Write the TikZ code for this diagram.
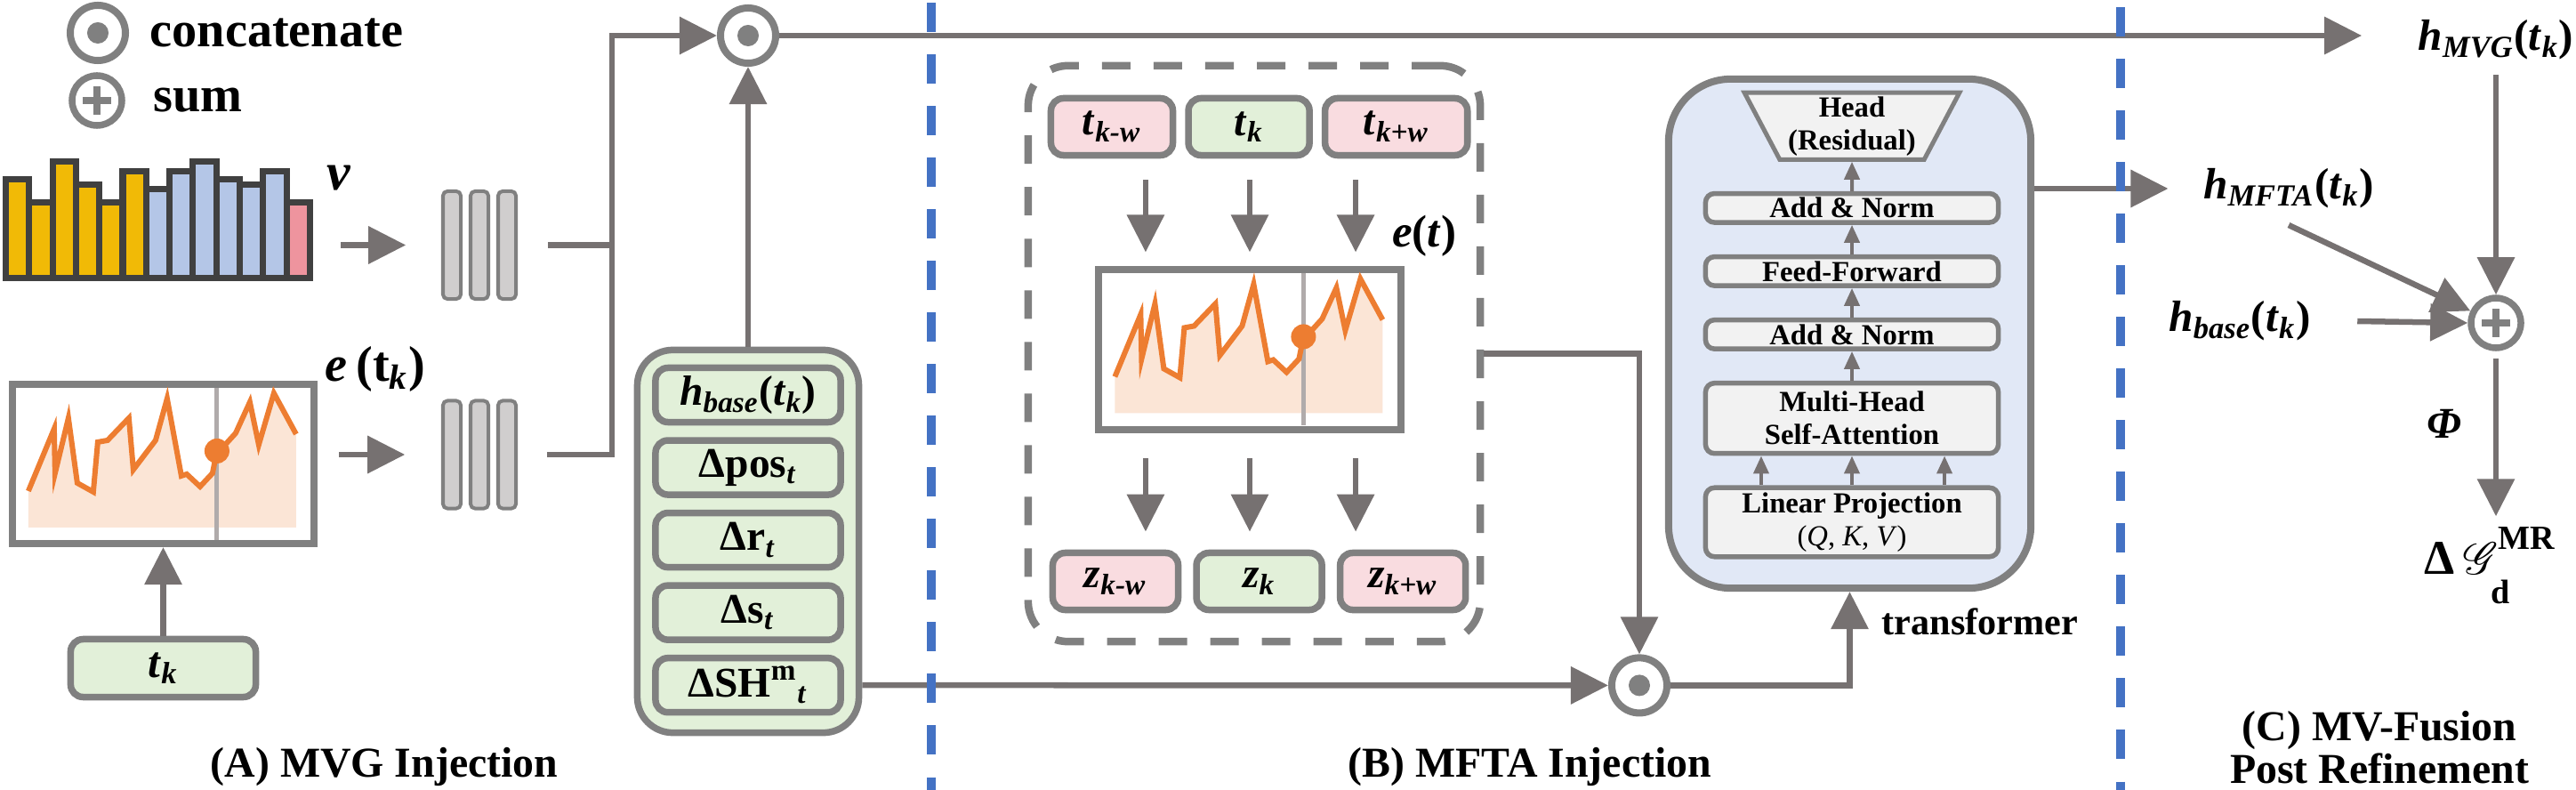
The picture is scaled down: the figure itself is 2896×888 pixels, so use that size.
\documentclass[tikz,border=0pt]{standalone}
\usepackage{amsmath}
\usepackage{fontspec}
\setmainfont{Liberation Serif}
\usepackage{mathrsfs}
\usetikzlibrary{arrows.meta,positioning,shapes.geometric}

\definecolor{arrgray}{HTML}{767171}
\definecolor{boxgray}{HTML}{808080}
\definecolor{splitgray}{HTML}{B0ABAB}
\definecolor{bardark}{HTML}{404040}
\definecolor{greenfill}{HTML}{E2F0D9}
\definecolor{pinkfill}{HTML}{F9DCE0}
\definecolor{transfill}{HTML}{E1E8F6}
\definecolor{layerfill}{HTML}{F2F2F2}
\definecolor{featfill}{HTML}{D0CECE}
\definecolor{curveorange}{HTML}{ED7D31}
\definecolor{peach}{HTML}{FBE5D6}
\definecolor{sepblue}{HTML}{4472C4}
\definecolor{baryellow}{HTML}{F1BA06}
\definecolor{barblue}{HTML}{B4C6E7}
\definecolor{barpink}{HTML}{EE949E}

\newcommand{\lsub}[1]{\textsubscript{\textit{#1}}}
\newcommand{\bsz}[1]{\fontsize{#1}{#1}\selectfont\bfseries}
\newcommand{\curvepts}{(22,124) -- (51,54) -- (52,104) -- (67,42) -- (77,115) -- (95,125) -- (100,69) -- (111,67) -- (135,42) -- (140,100) -- (165,67) -- (178,20) -- (194,107) -- (200,105) -- (215,119) -- (229,104) -- (234,79) -- (245,70) -- (255,59) -- (271,24) -- (281,72) -- (298,14) -- (323,60)}

\tikzset{
  chartpic/.pic={
    \fill[peach] (22,165) -- \curvepts -- (323,165) -- cycle;
    \draw[draw=splitgray, line width=0.05cm] (234,8) -- (234,179);
    \draw[draw=curveorange, line width=0.06cm] \curvepts;
    \fill[curveorange] (234,79) circle (0.14cm);
  }
}

\begin{document}
\begin{tikzpicture}[
  x=0.01cm, y=-0.01cm,
  node distance=0.33cm,
  arr/.style={draw=arrgray, color=arrgray, line width=0.065cm, -{Triangle[length=0.42cm,width=0.41cm]}},
  conn/.style={draw=arrgray, line width=0.065cm},
  smallarr/.style={draw=arrgray, color=arrgray, line width=0.04cm, -{Triangle[length=0.2cm,width=0.17cm]}},
  catnode/.style={circle, draw=boxgray, fill=white, line width=0.08cm, minimum size=0.62cm, inner sep=0,
    path picture={\fill[boxgray] (path picture bounding box.center) circle (0.12cm);}},
  sumnode/.style={circle, draw=boxgray, fill=white, line width=0.075cm, minimum size=0.56cm, inner sep=0,
    path picture={\fill[boxgray] ([xshift=-0.16cm,yshift=-0.04cm]path picture bounding box.center) rectangle ([xshift=0.16cm,yshift=0.04cm]path picture bounding box.center);
      \fill[boxgray] ([xshift=-0.04cm,yshift=-0.16cm]path picture bounding box.center) rectangle ([xshift=0.04cm,yshift=0.16cm]path picture bounding box.center);}},
  featstack/.style={minimum width=0.86cm, minimum height=1.25cm, inner sep=0},
  featbar/.style={draw=boxgray, fill=featfill, line width=0.04cm, rounded corners=0.05cm, minimum width=0.2cm, minimum height=1.21cm, inner sep=0},
  chartbox/.style={draw=boxgray, fill=white, line width=0.08cm, minimum width=3.39cm, minimum height=1.79cm, inner sep=0, outer sep=0.04cm},
  gbox/.style={draw=boxgray, fill=greenfill, line width=0.075cm, rounded corners=0.14cm, inner sep=0, font=\bsz{13.5pt}},
  pbox/.style={gbox, fill=pinkfill},
  gslot/.style={minimum width=2.08cm, minimum height=0.61cm},
  tslot/.style={minimum width=1.41cm, minimum height=0.64cm},
  layer/.style={draw=boxgray, fill=layerfill, line width=0.055cm, rounded corners=0.1cm, minimum width=3.29cm, inner sep=0, align=center, font=\fontsize{9.3pt}{10.5pt}\selectfont\bfseries},
  lbl/.style={inner sep=0, font=\bsz{14pt}},
  title/.style={inner sep=0, font=\fontsize{13.6pt}{11.6pt}\selectfont\bfseries},
  sepline/.style={draw=sepblue, line width=0.1cm, dash pattern=on 0.33cm off 0.25cm}
]
\useasboundingbox (0,0) rectangle (2896,888);

% legend
\node[catnode] (legcat) at (110,37) {};
\node[lbl, font=\bsz{16pt}, right=0.23cm of legcat] (legcattxt) {concatenate};
\node[sumnode] (legsum) at (109,113) {};
\node[lbl, font=\bsz{16pt}, right=0.31cm of legsum] (legsumtxt) {sum};

% (A) MVG injection
\foreach \h [count=\i] in {198,224,178,204,224,189,209,189,178,198,204,189,224} {
  \ifnum\i<7 \def\barcol{baryellow}\else\ifnum\i<13 \def\barcol{barblue}\else\def\barcol{barpink}\fi\fi
  \filldraw[fill=\barcol, draw=bardark, line width=0.07cm] ({6.5+(\i-1)*26.3},{\h+3.5}) rectangle ({6.5+\i*26.3},312.5);
}
\coordinate (vbars) at (352,275.5);
\node[lbl, font=\bsz{17pt}] (vlbl) at (381,200) {\textit{v}};
\node[featstack] (stack1) at (539,275.5) {};
\foreach \dx in {-31,0,31} \node[featbar] at ([xshift=\dx*0.01cm]stack1.center) {};
\draw[arr] ([xshift=0.31cm]vbars) -- ([xshift=-0.39cm]stack1.west);

\node[chartbox] (chartA) at (183.5,521.5) {};
\pic at (chartA.north west) {chartpic};
\node[lbl, font=\bsz{16pt}] (etk) at (422,415) {\textit{e}\,(t\lsub{k})};
\node[gbox, minimum width=2.08cm, minimum height=0.65cm, font=\bsz{14pt}] (tk) at (183.5,751) {\textit{t}\lsub{k}};
\draw[arr] (tk.north) -- (chartA.south);
\node[featstack] (stack2) at (539,511) {};
\foreach \dx in {-31,0,31} \node[featbar] at ([xshift=\dx*0.01cm]stack2.center) {};
\draw[arr] ([xshift=0.24cm]chartA.east |- stack2.west) -- ([xshift=-0.4cm]stack2.west);

\coordinate (jn) at (688,275.5);
\node[catnode] (catA) at (841,40) {};
\draw[arr] ([xshift=0.33cm]stack1.east) -- (jn) |- (catA.west);
\draw[conn] ([xshift=0.32cm]stack2.east) -| (jn);

\node[draw=boxgray, fill=greenfill, line width=0.075cm, rounded corners=0.4cm, minimum width=2.49cm, minimum height=4.3cm] (hstack) at (841,608.5) {};
\node[gbox, gslot] (hbase) at (841,444) {\textit{h}\lsub{base}(\textit{t}\lsub{k})};
\node[gbox, gslot, below=0.13cm of hbase] (dpos) {Δpos\lsub{t}};
\node[gbox, gslot, below=0.13cm of dpos] (drot) {Δr\lsub{t}};
\node[gbox, gslot, below=0.13cm of drot] (dscl) {Δs\lsub{t}};
\node[gbox, gslot, below=0.13cm of dscl] (dsh) {ΔSH\textsuperscript{m}\lsub{t}};
\draw[arr] (hstack.north) -- (catA.south);

\node[lbl] (hmvg) at (2806,45) {\textit{h}\lsub{MVG}(\textit{t}\lsub{k})};
\draw[arr, shorten >=0.63cm] (catA.east) -- (catA.east -| hmvg.west);

% (B) MFTA injection
\node[draw=boxgray, line width=0.085cm, dash pattern=on 0.32cm off 0.26cm, rounded corners=0.45cm, minimum width=5.08cm, minimum height=6.47cm] (mfta) at (1410,397.5) {};
\node[pbox, tslot, minimum width=1.37cm] (tkw) at (1250,142.5) {\textit{t}\lsub{k-w}};
\node[gbox, tslot, minimum width=1.36cm, right=0.1cm of tkw] (tkc) {\textit{t}\lsub{k}};
\node[pbox, tslot, minimum width=1.6cm, right=0.1cm of tkc] (tkp) {\textit{t}\lsub{k+w}};
\node[chartbox] (chartB) at (1405,393) {};
\pic at (chartB.north west) {chartpic};
\node[lbl, font=\bsz{14.5pt}] (et) at (1601,265) {\textit{e}(\textit{t})};
\node[pbox, tslot] (zkw) at (1254,653.5) {\textit{z}\lsub{k-w}};
\node[gbox, tslot, right=0.13cm of zkw] (zkc) {\textit{z}\lsub{k}};
\node[pbox, tslot, right=0.13cm of zkc] (zkp) {\textit{z}\lsub{k+w}};
\foreach \dx in {-1.17,0,1.19} {
  \draw[arr] ([xshift=\dx cm,yshift=0.97cm]chartB.north) -- ([xshift=\dx cm,yshift=0.16cm]chartB.north);
  \draw[arr] ([xshift=\dx cm,yshift=-0.28cm]chartB.south) -- ([xshift=\dx cm,yshift=-1.11cm]chartB.south);
}

\node[catnode] (catB) at (1843,770.4) {};
\draw[arr] (mfta.east) -| (catB.north);
\draw[arr] (dsh -| hstack.east) -- (catB.west);

% transformer
\node[draw=boxgray, fill=transfill, line width=0.08cm, rounded corners=0.7cm, minimum width=4.07cm, minimum height=5.72cm] (trans) at (2079.5,375) {};
\node[layer, minimum height=0.775cm] (linproj) at (2082,587) {Linear Projection\\{\mdseries(\textit{Q}, \textit{K}, \textit{V})}};
\node[layer, minimum height=0.79cm, above=of linproj] (mhsa) {Multi-Head\\Self-Attention};
\node[layer, minimum height=0.325cm, above=of mhsa] (addnA) {Add \& Norm};
\node[layer, minimum height=0.325cm, above=of addnA] (ffwd) {Feed-Forward};
\node[layer, minimum height=0.325cm, above=of ffwd] (addnB) {Add \& Norm};
\node[trapezium, trapezium angle=63, trapezium stretches=true, shape border rotate=180, draw=boxgray, fill=layerfill, line width=0.05cm, minimum width=2.42cm, minimum height=0.75cm, inner sep=0.02cm, align=center, font=\fontsize{9.3pt}{10.5pt}\selectfont\bfseries, above=of addnB] (head) {Head\\(Residual)};
\foreach \dx in {-1.02,0,1.04} \draw[smallarr] ([xshift=\dx cm]linproj.north) -- ([xshift=\dx cm]mhsa.south);
\draw[smallarr] (mhsa) -- (addnA);
\draw[smallarr] (addnA) -- (ffwd);
\draw[smallarr] (ffwd) -- (addnB);
\draw[smallarr] (addnB) -- (head);
\draw[arr] (catB.east) -| (trans.south);
\node[lbl, font=\bsz{12pt}] (translbl) at (2226,699) {transformer};

% (C) fusion
\node[lbl] (hmfta) at (2573,212) {\textit{h}\lsub{MFTA}(\textit{t}\lsub{k})};
\node[lbl] (hbaseR) at (2518,361) {\textit{h}\lsub{base}(\textit{t}\lsub{k})};
\node[sumnode] (sumC) at (2806,363) {};
\node[lbl] (phi) at (2748,476) {\textit{Φ}};
\node[lbl, font=\bsz{15.5pt}] (dg) at (2800,636) {Δ\,$\mathscr{G}^{\textbf{MR}\rule[-0.4ex]{0pt}{0pt}}_{\rule{0pt}{1.7ex}\textbf{d}}$};
\draw[arr, shorten >=0.39cm] (hmfta.west -| trans.east) -- (hmfta.west);
\draw[arr, shorten <=0.16cm] (hmvg.south) -- (sumC.north);
\draw[arr] ([yshift=-0.18cm]hmfta.south) -- (sumC);
\draw[arr] ([xshift=0.52cm]hbaseR.east) -- (sumC.west);
\draw[arr, shorten <=0.08cm, shorten >=0.12cm] (sumC.south) -- (sumC.south |- dg.north);

% section titles
\node[title, anchor=base] (secA) at (432,873) {(A) MVG Injection};
\node[title, anchor=base] (secB) at (1720,873) {(B) MFTA Injection};
\node[title, align=center] (secC) at (2675,840) {(C) MV-Fusion\\Post Refinement};

% separators
\draw[sepline] (1047,3) -- (1047,888);
\draw[sepline] (2384,8) -- (2384,888);
\end{tikzpicture}
\end{document}
